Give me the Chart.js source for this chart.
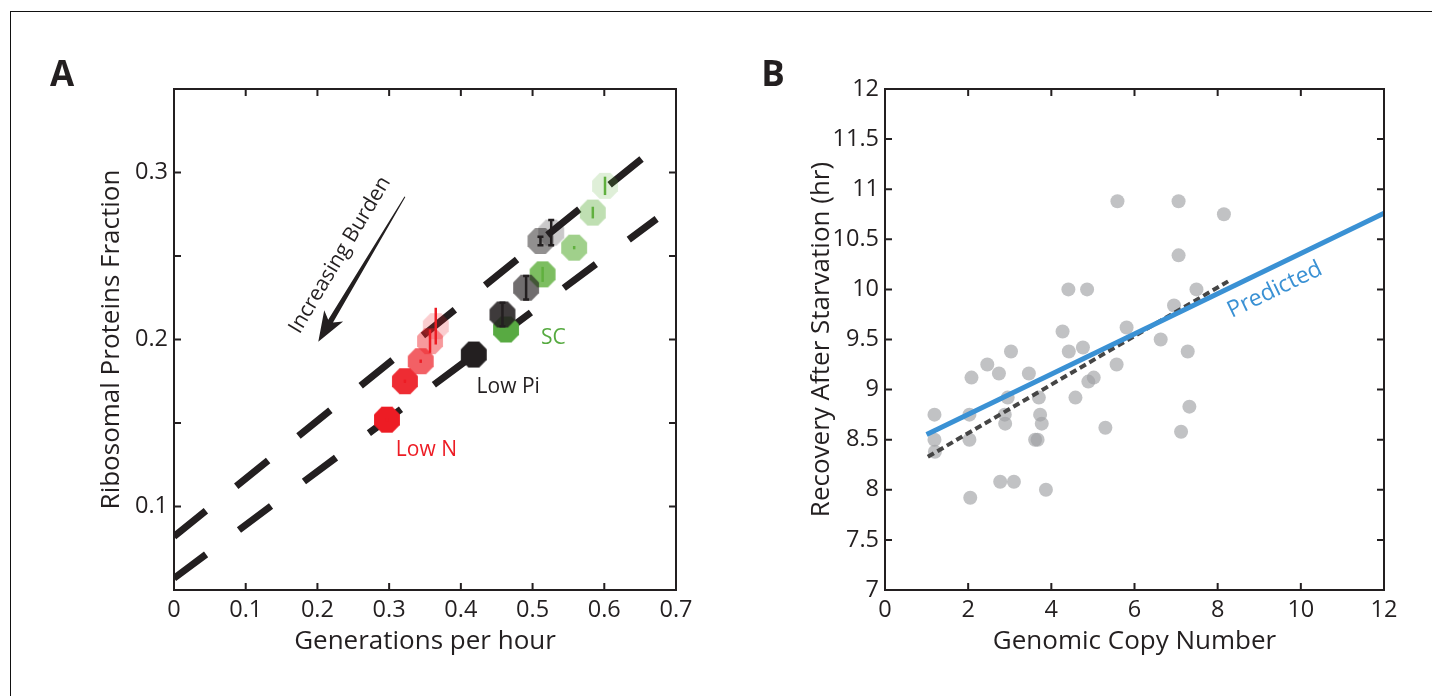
<!DOCTYPE html>
<html><head><meta charset="utf-8">
<script src="https://cdn.jsdelivr.net/npm/chart.js@4"></script>
<style>
html,body{margin:0;padding:0;background:#fff;width:1432px;height:696px;overflow:hidden;}
#frame{position:absolute;left:10px;top:11px;width:1430px;height:700px;border-top:1.5px solid #111;border-left:1.5px solid #111;}
.panel{position:absolute;top:0;width:716px;height:696px;}
</style></head><body>
<div id="frame"></div>
<div class="panel" style="left:0"><canvas id="cA" width="716" height="696"></canvas></div>
<div class="panel" style="left:716px"><canvas id="cB" width="716" height="696"></canvas></div>
<script>
// ---------- Panel A data ----------
const lowNGrowth   = [0.297, 0.322, 0.344, 0.357, 0.365];
const lowNRibo     = [0.152, 0.175, 0.187, 0.199, 0.208];
const lowNErr      = [0.001, 0.001, 0.001, 0.007, 0.011];
const lowPiGrowth  = [0.418, 0.458, 0.491, 0.511, 0.526];
const lowPiRibo    = [0.191, 0.215, 0.231, 0.259, 0.264];
const lowPiErr     = [0.000, 0.007, 0.007, 0.0025, 0.0075];
const scGrowth     = [0.463, 0.514, 0.558, 0.584, 0.601];
const scRibo       = [0.206, 0.239, 0.255, 0.276, 0.292];
const scErr        = [0.000, 0.0045, 0.001, 0.0035, 0.0055];
const upperFitX    = [0, 0.653];
const upperFitY    = [0.082, 0.3085];
const lowerFitX    = [0, 0.673];
const lowerFitY    = [0.057, 0.2722];
const xTicksA      = [0, 0.1, 0.2, 0.3, 0.4, 0.5, 0.6, 0.7];
const xTickLabelsA = ['0','0.1','0.2','0.3','0.4','0.5','0.6','0.7'];
const yTicksA      = [0.05, 0.1, 0.15, 0.2, 0.25, 0.3, 0.35];
const yTickLabelsA = ['', '0.1', '', '0.2', '', '0.3', ''];

// ---------- Panel B data ----------
const copyNumber = [5.59,7.06,8.15,7.06,4.41,4.86,7.49,6.95,4.27,5.81,6.63,4.42,4.76,3.03,7.28,2.46,5.57,2.08,2.74,3.46,5.02,4.89,2.95,3.70,4.58,1.19,2.03,2.88,3.73,7.32,2.89,3.77,5.30,7.12,1.19,2.03,3.61,3.67,1.20,2.77,3.10,3.87,2.05];
const recoveryHr = [10.88,10.88,10.75,10.34,10.00,10.00,10.00,9.84,9.58,9.62,9.50,9.38,9.42,9.38,9.38,9.25,9.25,9.12,9.16,9.16,9.12,9.08,8.92,8.92,8.92,8.75,8.75,8.75,8.75,8.83,8.66,8.66,8.62,8.58,8.50,8.50,8.50,8.50,8.38,8.08,8.08,8.00,7.92];
const predictedX = [1, 12];
const predictedY = [8.553, 10.76];
const fitX       = [1.03, 8.25];
const fitY       = [8.33, 10.08];
const xTicksB      = [0, 2, 4, 6, 8, 10, 12];
const xTickLabelsB = ['0','2','4','6','8','10','12'];
const yTicksB      = [7, 7.5, 8, 8.5, 9, 9.5, 10, 10.5, 11, 11.5, 12];
const yTickLabelsB = ['7','7.5','8','8.5','9','9.5','10','10.5','11','11.5','12'];

// ---------- styles ----------
const INK = '#231f20';
const FONT = "'Open Sans', 'Noto Sans', sans-serif";
const RED = '237,28,36', GREY = '35,31,32', GREEN = '96,176,62';
const redAlpha = [1, 0.93, 0.7, 0.45, 0.22];
const greyAlpha = [1, 0.88, 0.65, 0.5, 0.24];
const greenAlpha = [1, 0.82, 0.6, 0.4, 0.2];

function octagon(color, r) {
  const s = Math.ceil(2 * r) + 2;
  const c = document.createElement('canvas'); c.width = s; c.height = s;
  const g = c.getContext('2d'); g.fillStyle = color; g.beginPath();
  for (let i = 0; i < 8; i++) {
    const a = Math.PI / 8 + i * Math.PI / 4;
    const px = s / 2 + r * Math.cos(a), py = s / 2 + r * Math.sin(a);
    if (i) g.lineTo(px, py); else g.moveTo(px, py);
  }
  g.closePath(); g.fill(); return c;
}
const pts = (xs, ys) => xs.map((v, i) => ({x: v, y: ys[i]}));

const boxPlugin = {
  id: 'box',
  afterDatasetsDraw(chart) {
    const {ctx, chartArea: a, scales: {x, y}} = chart;
    ctx.save(); ctx.strokeStyle = INK; ctx.lineWidth = 2; ctx.lineCap = 'butt';
    const L = 7; ctx.beginPath();
    x.ticks.forEach(t => { const p = x.getPixelForValue(t.value); if (p <= a.left + 1 || p >= a.right - 1) return;
      ctx.moveTo(p, a.bottom); ctx.lineTo(p, a.bottom - L); ctx.moveTo(p, a.top); ctx.lineTo(p, a.top + L); });
    y.ticks.forEach(t => { const p = y.getPixelForValue(t.value); if (p <= a.top + 1 || p >= a.bottom - 1) return;
      ctx.moveTo(a.left, p); ctx.lineTo(a.left + L, p); ctx.moveTo(a.right, p); ctx.lineTo(a.right - L, p); });
    ctx.stroke();
    ctx.strokeRect(a.left, a.top, a.right - a.left, a.bottom - a.top);
    ctx.restore();
  }
};

function scaleOpts(ticks, labels, min, max, titleText, isX, titlePad) {
  return {
    type: 'linear', min, max,
    afterBuildTicks: s => { s.ticks = ticks.map(v => ({value: v})); },
    ticks: {autoSkip: false, maxRotation: 0, padding: 6, color: INK,
      font: {family: FONT, size: 23.5, lineHeight: 1.2},
      callback: (v, i) => labels[i]},
    grid: {display: false, drawTicks: false},
    border: {display: false},
    title: {display: true, text: titleText, color: INK,
      font: {family: FONT, size: 26, lineHeight: 1.2},
      padding: isX ? {top: 0, bottom: titlePad} : {top: titlePad, bottom: 0}}
  };
}

// ---------- Panel A ----------
const annotA = {
  id: 'annotA',
  afterDatasetsDraw(chart) {
    const {ctx, scales: {x, y}} = chart;
    ctx.save();
    const bars = [[lowNGrowth, lowNRibo, lowNErr, 'rgb(' + RED + ')', 0],
                  [lowPiGrowth, lowPiRibo, lowPiErr, INK, 3],
                  [scGrowth, scRibo, scErr, 'rgb(' + GREEN + ')', 0]];
    bars.forEach(([xs, ys, es, col, cap]) => {
      ctx.strokeStyle = col; ctx.lineWidth = 2.5;
      xs.forEach((v, i) => {
        if (!es[i]) return;
        const px = x.getPixelForValue(v), p1 = y.getPixelForValue(ys[i] - es[i]), p2 = y.getPixelForValue(ys[i] + es[i]);
        ctx.beginPath(); ctx.moveTo(px, p1); ctx.lineTo(px, p2);
        if (cap) { ctx.moveTo(px - cap, p1); ctx.lineTo(px + cap, p1); ctx.moveTo(px - cap, p2); ctx.lineTo(px + cap, p2); }
        ctx.stroke();
      });
    });
    // arrow
    const tx = x.getPixelForValue(0.322), ty = y.getPixelForValue(0.2855);
    const hx = x.getPixelForValue(0.2012), hy = y.getPixelForValue(0.1987);
    const len = Math.hypot(hx - tx, hy - ty), ux = (hx - tx) / len, uy = (hy - ty) / len, nx = -uy, ny = ux;
    const HL = 30, HW = 11, bx = hx - ux * HL, by = hy - uy * HL;
    ctx.fillStyle = INK; ctx.beginPath();
    ctx.moveTo(tx + nx * 0.5, ty + ny * 0.5);
    ctx.lineTo(bx + ux * 6 + nx * 2.8, by + uy * 6 + ny * 2.8);
    ctx.lineTo(bx + nx * HW, by + ny * HW);
    ctx.lineTo(hx, hy);
    ctx.lineTo(bx - nx * HW, by - ny * HW);
    ctx.lineTo(bx + ux * 6 - nx * 2.8, by + uy * 6 - ny * 2.8);
    ctx.lineTo(tx - nx * 0.5, ty - ny * 0.5);
    ctx.closePath(); ctx.fill();
    const ang = Math.atan2(ty - hy, tx - hx);
    ctx.save();
    ctx.translate(x.getPixelForValue(0.2315), y.getPixelForValue(0.2506));
    ctx.rotate(ang);
    ctx.font = '21px ' + FONT; ctx.textAlign = 'center'; ctx.textBaseline = 'middle'; ctx.fillStyle = INK;
    ctx.fillText('Increasing Burden', 0, 0);
    ctx.restore();
    ctx.font = '21px ' + FONT; ctx.textAlign = 'center'; ctx.textBaseline = 'middle';
    ctx.fillStyle = 'rgb(' + RED + ')'; ctx.fillText('Low N', x.getPixelForValue(0.352), y.getPixelForValue(0.1338));
    ctx.fillStyle = INK; ctx.fillText('Low Pi', x.getPixelForValue(0.466), y.getPixelForValue(0.1717));
    ctx.fillStyle = 'rgb(86,170,64)'; ctx.fillText('SC', x.getPixelForValue(0.529), y.getPixelForValue(0.2007));
    ctx.font = 'bold 35px ' + FONT; ctx.textBaseline = 'alphabetic'; ctx.fillStyle = INK;
    ctx.fillText('A', 62, 86);
    ctx.restore();
  }
};

const sA = scaleOpts(xTicksA, xTickLabelsA, 0, 0.7, 'Generations per hour', true, 39);
sA.afterFit = s => { s.height = 106; };
const yA = scaleOpts(yTicksA, yTickLabelsA, 0.05, 0.35, 'Ribosomal Proteins Fraction', false, 96);
yA.afterFit = s => { s.width = 174; };

new Chart(document.getElementById('cA'), {
  type: 'scatter',
  data: { datasets: [
    {data: pts(upperFitX, upperFitY), showLine: true, borderColor: INK, borderWidth: 7, borderDash: [41, 39], borderCapStyle: 'butt', pointRadius: 0, clip: 0, order: 3},
    {data: pts(lowerFitX, lowerFitY), showLine: true, borderColor: INK, borderWidth: 7, borderDash: [40, 41], borderCapStyle: 'butt', pointRadius: 0, clip: 0, order: 3},
    {data: pts(lowNGrowth, lowNRibo), pointStyle: redAlpha.map(a => octagon('rgba(' + RED + ',' + a + ')', 14)), pointRadius: 14, order: 1},
    {data: pts(lowPiGrowth, lowPiRibo), pointStyle: greyAlpha.map(a => octagon('rgba(' + GREY + ',' + a + ')', 14)), pointRadius: 14, order: 1},
    {data: pts(scGrowth, scRibo), pointStyle: greenAlpha.map((a, i) => octagon(i ? 'rgba(' + GREEN + ',' + a + ')' : 'rgb(88,170,66)', 14)), pointRadius: 14, order: 1}
  ]},
  options: {
    responsive: false, devicePixelRatio: 1, animation: false, events: [],
    layout: {padding: {left: 0, top: 89, right: 40, bottom: 0}},
    plugins: {legend: {display: false}, tooltip: {enabled: false}},
    scales: {x: sA, y: yA}
  },
  plugins: [annotA, boxPlugin]
});

// ---------- Panel B ----------
const annotB = {
  id: 'annotB',
  afterDatasetsDraw(chart) {
    const {ctx, scales: {x, y}} = chart;
    ctx.save();
    const ang = Math.atan2(y.getPixelForValue(predictedY[1]) - y.getPixelForValue(predictedY[0]),
                           x.getPixelForValue(predictedX[1]) - x.getPixelForValue(predictedX[0]));
    ctx.translate(x.getPixelForValue(9.375), y.getPixelForValue(9.995));
    ctx.rotate(ang);
    ctx.font = '23px ' + FONT; ctx.textAlign = 'center'; ctx.textBaseline = 'middle'; ctx.fillStyle = 'rgb(58,145,212)';
    ctx.fillText('Predicted', 0, 0);
    ctx.restore();
    ctx.save();
    ctx.font = 'bold 35px ' + FONT; ctx.textAlign = 'center'; ctx.textBaseline = 'alphabetic'; ctx.fillStyle = INK;
    ctx.fillText('B', 773 - 716, 86);
    ctx.restore();
  }
};
const xB = scaleOpts(xTicksB, xTickLabelsB, 0, 12, 'Genomic Copy Number', true, 39);
xB.afterFit = s => { s.height = 106; };
const yB = scaleOpts(yTicksB, yTickLabelsB, 7, 12, 'Recovery After Starvation (hr)', false, 90);
yB.afterFit = s => { s.width = 169; };

new Chart(document.getElementById('cB'), {
  type: 'scatter',
  data: { datasets: [
    {data: pts(predictedX, predictedY), showLine: true, borderColor: 'rgb(58,145,212)', borderWidth: 5, pointRadius: 0, clip: 0, order: 0},
    {data: pts(fitX, fitY), showLine: true, borderColor: '#454545', borderWidth: 4, borderDash: [7, 4], borderCapStyle: 'butt', pointRadius: 0, clip: 0, order: 0},
    {data: pts(copyNumber, recoveryHr), backgroundColor: 'rgba(160,161,164,0.65)', borderWidth: 0, pointRadius: 7, order: 2}
  ]},
  options: {
    responsive: false, devicePixelRatio: 1, animation: false, events: [],
    layout: {padding: {left: 0, top: 89, right: 48, bottom: 0}},
    plugins: {legend: {display: false}, tooltip: {enabled: false}},
    scales: {x: xB, y: yB}
  },
  plugins: [annotB, boxPlugin]
});
</script>
</body></html>
